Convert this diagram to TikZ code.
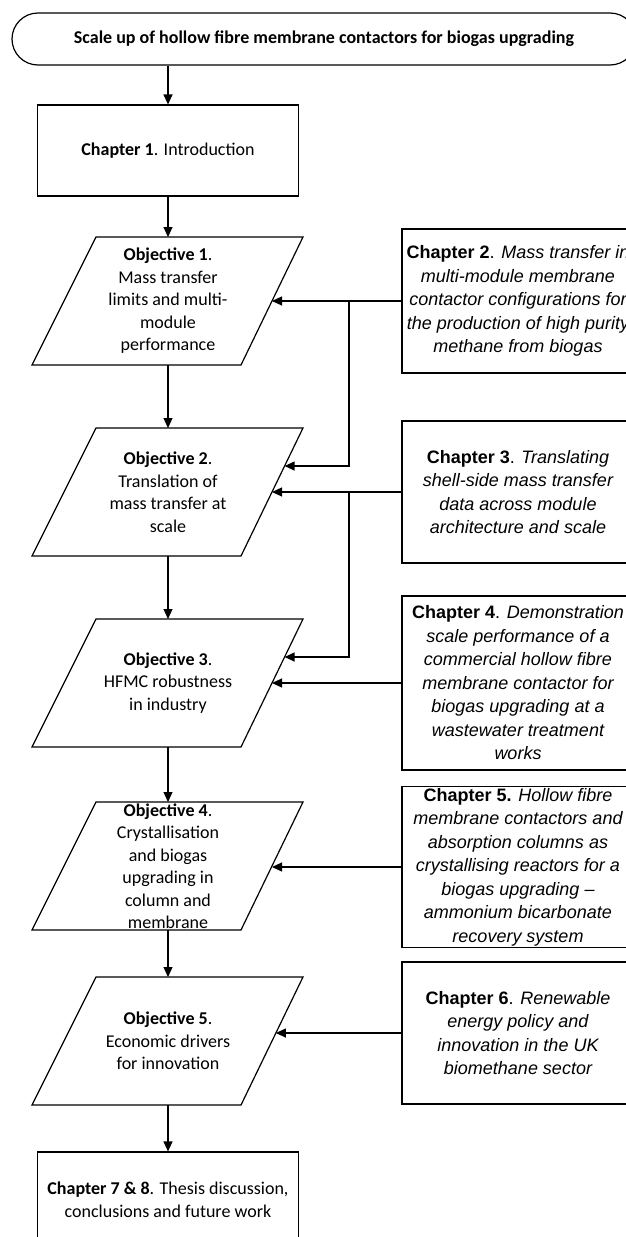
\documentclass[tikz,border=0pt]{standalone}
\usepackage{fontspec}
\setmainfont{Carlito}
\newfontfamily\arialf{Liberation Sans}
\usetikzlibrary{arrows.meta,calc}
\newcommand\objpar[2]{%
  \coordinate (#1tl) at (96,#2);
  \coordinate (#1tr) at (303,#2);
  \coordinate (#1br) at (241,#2+128);
  \coordinate (#1bl) at (32,#2+128);
  \coordinate (#1n) at (168,#2);
  \coordinate (#1s) at (168,#2+128);
  \draw[line] (#1tl) -- (#1tr) -- (#1br) -- (#1bl) -- cycle;
}
\newcommand\chp[1]{{\upshape\bfseries #1}}
\newcommand\updot{{\upshape .}}
\begin{document}
\begin{tikzpicture}[x=1pt,y=-1pt,
  line/.style={line width=1.2pt, draw=black, line join=miter},
  arr/.style={line width=1.2pt, -{Triangle[length=10pt,width=9pt]}},
  lbox/.style={draw, line width=1.2pt, minimum width=261pt, inner sep=0pt, align=center, font=\fontsize{18}{22.5}\selectfont},
  rbox/.style={draw, line width=1.2pt, minimum width=232pt, inner sep=0pt, align=center, font=\arialf\itshape\fontsize{18}{23.5}\selectfont},
  otext/.style={align=center, inner sep=0pt, font=\fontsize{18}{22.5}\selectfont},
]
\useasboundingbox (0,0) rectangle (626,1237);
\clip (0,0) rectangle (626,1237);

% title
\node[draw, line width=1.2pt, rounded corners=26pt, minimum width=624pt, minimum height=52pt, inner sep=0pt,
  font=\bfseries\fontsize{18}{22.5}\selectfont] (title) at (324,39)
  {Scale up of hollow fibre membrane contactors for biogas upgrading};

% left column
\node[lbox, minimum height=91pt] (c1) at (168,150.5) {\textbf{Chapter 1}. Introduction};

\objpar{o1}{237}
\objpar{o2}{428}
\objpar{o3}{619}
\objpar{o4}{802}
\objpar{o5}{977}

\node[otext] (o1) at (168,301) {\textbf{Objective 1}.\\Mass transfer\\limits and multi-\\module\\performance};
\node[otext] (o2) at (168,492) {\textbf{Objective 2}.\\Translation of\\mass transfer at\\scale};
\node[otext] (o3) at (168,683) {\textbf{Objective 3}.\\HFMC robustness\\in industry};
\node[otext] (o4) at (168,866) {\textbf{Objective 4}.\\Crystallisation\\and biogas\\upgrading in\\column and\\membrane};
\node[otext] (o5) at (168,1041) {\textbf{Objective 5}.\\Economic drivers\\for innovation};

\node[lbox, minimum height=95pt] (c7) at (168,1199.5) {\textbf{Chapter 7 \& 8}. Thesis discussion,\\conclusions and future work};

% right column
\node[rbox, minimum height=144pt] (c2) at (518,301)
  {\chp{Chapter 2}\updot{} Mass transfer in\\multi-module membrane\\contactor configurations for\\the production of high purity\\methane from biogas};
\node[rbox, minimum height=142pt] (c3) at (518,492)
  {\chp{Chapter 3}\updot{} Translating\\shell-side mass transfer\\data across module\\architecture and scale};
\node[rbox, minimum height=174pt] (c4) at (518,683)
  {\chp{Chapter 4}\updot{} Demonstration\\scale performance of a\\commercial hollow fibre\\membrane contactor for\\biogas upgrading at a\\wastewater treatment\\works};
\node[rbox, minimum height=161pt] (c5) at (518,867)
  {\chp{Chapter 5.} Hollow fibre\\membrane contactors and\\absorption columns as\\crystallising reactors for a\\biogas upgrading –\\ammonium bicarbonate\\recovery system};
\node[rbox, minimum height=142pt] (c6) at (518,1033)
  {\chp{Chapter 6}\updot{} Renewable\\energy policy and\\innovation in the UK\\biomethane sector};

% edge points on parallelograms
\coordinate (o1e) at ($(o1tr)!0.5!(o1br)$);
\coordinate (o2e) at ($(o2tr)!0.5!(o2br)$);
\coordinate (o3e) at ($(o3tr)!0.5!(o3br)$);
\coordinate (o4e) at ($(o4tr)!0.5!(o4br)$);
\coordinate (o5e) at ($(o5tr)!0.4375!(o5br)$);
\coordinate (o2u) at ($(o2tr)!0.297!(o2br)$);
\coordinate (o3u) at ($(o3tr)!0.297!(o3br)$);
\coordinate (j1) at (349,301);
\coordinate (j2) at (349,492);

% connectors
\draw[arr] (title.south -| c1.north) -- (c1.north);
\draw[arr] (c1.south) -- (o1n);
\draw[arr] (o1s) -- (o2n);
\draw[arr] (o2s) -- (o3n);
\draw[arr] (o3s) -- (o4n);
\draw[arr] (o4s) -- (o5n);
\draw[arr] (o5s) -- (c7.north);

\draw[arr] (c2.west) -- (o1e);
\draw[arr] (j1) |- (o2u);
\draw[arr] (c3.west) -- (o2e);
\draw[arr] (j2) |- (o3u);
\draw[arr] (c4.west) -- (o3e);
\draw[arr] (c5.west) -- (c5.west -| o4e);
\draw[arr] (c6.west) -- (c6.west -| o5e);
\end{tikzpicture}
\end{document}
